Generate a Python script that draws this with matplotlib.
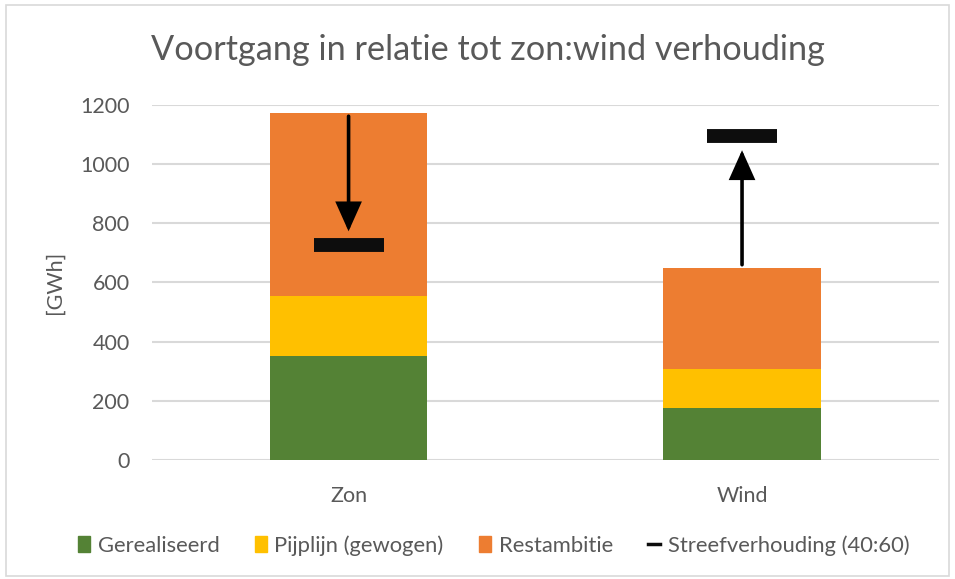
import matplotlib.pyplot as plt
from matplotlib.patches import Rectangle
from matplotlib.lines import Line2D

# data (GWh)
categories = ["Zon", "Wind"]
gerealiseerd = [350, 177]
pijplijn = [203, 130]
restambitie = [621, 341]
streef = [726, 1094]

series_names = ["Gerealiseerd", "Pijplijn (gewogen)", "Restambitie"]
colors = ["#548235", "#FFC000", "#ED7D31"]
grey = "#595959"
font = ["Lato", "DejaVu Sans"]

plt.rcParams['font.family'] = font

fig = plt.figure(figsize=(9.55, 5.79), dpi=100)
fig.patches.append(Rectangle((0.006, 0.006), 0.988, 0.985, transform=fig.transFigure,
                             fill=False, edgecolor="#d9d9d9", lw=1.2))
ax = fig.add_axes([0.159, 0.2055, 0.824, 0.6132])

x = list(range(len(categories)))
bottom = [0] * len(categories)
for vals, name, c in zip([gerealiseerd, pijplijn, restambitie], series_names, colors):
    ax.bar(x, vals, 0.4, bottom=bottom, color=c, label=name, zorder=2)
    bottom = [b + v for b, v in zip(bottom, vals)]

ax.plot(x, streef, ls="none", marker="_", markersize=50, markeredgewidth=10,
        color="#0d0d0d", zorder=4)

# arrows from current total towards target
for xi, tot, tgt in zip(x, bottom, streef):
    d = 1 if tgt > tot else -1
    ax.annotate("", xy=(xi, tgt - d * 47), xytext=(xi, tot + d * 12),
                arrowprops=dict(arrowstyle="-|>,head_length=0.85,head_width=0.38",
                                lw=2.6, color="black", mutation_scale=20,
                                shrinkA=0, shrinkB=0, joinstyle="miter"), zorder=5)

ax.set_xlim(-0.5, 1.5)
ax.set_ylim(0, 1200)
ax.set_yticks(range(0, 1201, 200))
ax.set_xticks(x)
ax.set_xticklabels(categories)
ax.grid(axis="y", color="#d9d9d9", lw=1.5, zorder=0)
for s in ["top", "right", "left", "bottom"]:
    ax.spines[s].set_visible(False)
ax.tick_params(axis="both", length=0, labelsize=15.5, labelcolor=grey)
ax.tick_params(axis="y", pad=16)
ax.tick_params(axis="x", pad=19)
ax.set_ylabel("[GWh]", fontsize=15.5, color=grey, labelpad=11)

fig.text(0.511, 0.914, "Voortgang in relatie tot zon:wind verhouding",
         ha="center", va="center", fontsize=24.7, color=grey)

handles = [Rectangle((0, 0), 1, 1, color=c) for c in colors]
handles.append(Line2D([], [], color="#0d0d0d", lw=2.5))
fig.legend(handles, series_names + ["Streefverhouding (40:60)"], loc="center",
           bbox_to_anchor=(0.517, 0.058), ncol=4, frameon=False, fontsize=15.8,
           labelcolor=grey, handlelength=0.55, handleheight=0.8, handletextpad=0.35,
           columnspacing=1.6)

fig.savefig("out.png", dpi=100)
